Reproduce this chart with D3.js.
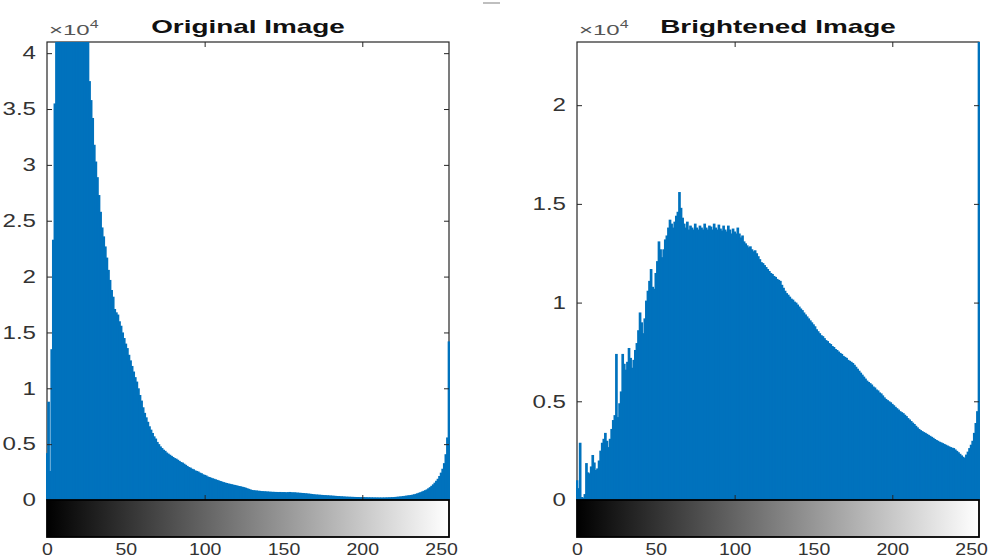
<!DOCTYPE html>
<html><head><meta charset="utf-8">
<script src="https://cdn.jsdelivr.net/npm/d3@7"></script>
<style>body{margin:0;background:#fff}svg{display:block}</style>
</head><body><svg id="c" width="988" height="559"></svg>
<script>
// ---------- data ----------
const grayLevels = Array.from({length: 256}, (_, i) => i);

const originalCounts = [
 4200, 8800, 2600, 13500, 23300, 35500,
 44000, 51000, 56000, 60000, 62000, 63500, 64000, 63000, 62000, 60500, 59000, 57000, 55000, 53000, 51000, 49500, 47500, 46000, 44500, 43000, 41800,
 37500, 35800, 34200, 31800, 30300, 28900, 27300, 25800, 24400, 23600, 22700, 21700, 20600, 19700,
 18800, 18200, 17100, 16800, 16600, 16000, 15600, 15000, 14500, 14000, 13600, 13000, 12500, 12000, 11500, 11000, 10600, 10000, 9400, 8900,
 8300, 7800, 7400, 7000, 6600, 6300, 6000, 5700, 5500, 5200, 5000, 4800, 4650, 4500, 4400, 4250, 4150, 4050, 3950, 3850,
 3750, 3700, 3600, 3500, 3400, 3350, 3250, 3150, 3050, 2950, 2900, 2800, 2750, 2650, 2600, 2550, 2450, 2400, 2300, 2250,
 2200, 2100, 2060, 2000, 1950, 1900, 1850, 1800, 1750, 1700, 1650, 1600, 1560, 1520, 1480, 1450, 1420, 1380, 1350, 1320,
 1280, 1250, 1220, 1180, 1150, 1100, 1050, 1000, 950, 900, 880, 860, 850, 830, 820, 800, 790, 780, 770, 760,
 750, 740, 730, 730, 720, 720, 710, 720, 700,
 710, 700, 690, 700, 720, 700, 680, 690, 670, 660, 650, 640, 630, 620, 600, 590, 570, 560, 540, 520, 500, 490,
 480, 470, 460, 450, 440, 430, 420, 410, 400, 390, 380, 370, 360, 350, 340, 330, 320, 310, 300, 295, 290, 285, 280, 275, 270, 265, 260, 258,
 258, 255, 250, 245, 240, 238, 235, 232, 230, 228, 225, 225, 222, 224, 226, 230, 235, 240, 248, 256, 265, 275, 288, 300, 315, 330, 350, 370, 390, 410, 430, 450, 480, 510, 550,
 600, 650, 700, 760, 820, 880, 950, 1050, 1150, 1270, 1400, 1550, 1720, 1900, 2150, 2450, 2800, 3300, 4100, 5600, 14200
];

const brightenedCounts = [
 1000, 600, 2900, 150, 120, 300, 1870, 1400, 1350, 1700,
 2280, 1900, 1520, 1600, 2000, 2500, 2900, 3100, 3400, 3000,
 2680, 3100, 3600, 4050, 4300, 7400, 4200, 4900, 5500, 7400,
 6900, 6600, 7000, 7700, 7200, 6700, 7100, 7600, 7950, 8600,
 9500, 9000, 8450, 9200, 10100, 10600, 11100, 11700, 10800, 10700,
 11500, 12100, 13100, 12700, 12300, 12700, 13200, 13400, 13800, 14200,
 14000, 13800, 14100, 14400, 14600, 15600, 14800, 14300, 14000, 13800,
 14100, 13700, 13900, 13800, 13700, 14000, 13800, 13700, 13900, 13800,
 13700, 14000, 13800, 13700, 13900, 13850, 13700, 14000, 13800, 13700,
 13950, 13750, 13650, 13900, 13700, 13600, 13900, 13700, 13500, 13750,
 13600, 13500, 13800, 13500, 13300, 13400, 13100, 13000, 12900, 12800,
 12850, 12700, 12600, 12650, 12500, 12350, 12200, 12050, 12000, 11900,
 11800, 11700, 11600, 11500, 11450, 11350, 11300, 11200, 11150, 11100,
 10900, 10750, 10600, 10480, 10400, 10300, 10200, 10150, 10050, 10000,
 9900, 9800, 9700, 9620, 9500, 9400, 9300, 9200, 9100, 9000,
 8900, 8800, 8650, 8550, 8450, 8350, 8300, 8200, 8100, 8050,
 7950, 7900, 7800, 7750, 7650, 7600, 7520, 7450, 7400, 7300,
 7250, 7200, 7100, 7050, 7000, 6940, 6850, 6750, 6650, 6550,
 6450, 6350, 6250, 6150, 6050, 5980, 5920, 5850, 5750, 5700,
 5600, 5550, 5450, 5400, 5300, 5200, 5120, 5060, 5000, 4950,
 4870, 4800, 4720, 4650, 4580, 4500, 4450, 4400, 4320, 4250,
 4150, 4080, 4000, 3920, 3850, 3760, 3680, 3600, 3540, 3490,
 3440, 3400, 3350, 3300, 3250, 3200, 3150, 3090, 3040, 3000,
 2950, 2920, 2880, 2840, 2800, 2760, 2720, 2680, 2650, 2630,
 2560, 2490, 2420, 2340, 2260, 2190, 2130, 2300, 2450, 2630,
 2800, 3000, 3400, 3900, 4500, 60000
];

const titles = ["Original Image", "Brightened Image"];
const yTicksOriginal = [0, 5000, 10000, 15000, 20000, 25000, 30000, 35000, 40000];
const yTicksBrightened = [0, 5000, 10000, 15000, 20000];
const yMaxOriginal = 41000;
const yMaxBrightened = 23200;
const xTickLabels = [0, 50, 100, 150, 200, 250];
const axisXTicks = [100, 200];

// ---------- drawing ----------
const svg = d3.select("#c");
const BLUE = "#0072BD", AX = "#262626", FONT = "'Liberation Sans', Arial, Helvetica, sans-serif";
const TOP = 42, BOT = 500, CB = 537;

const defs = svg.append("defs");
const grad = defs.append("linearGradient").attr("id", "grayramp").attr("x1", "0%").attr("x2", "100%");
grad.append("stop").attr("offset", "0%").attr("stop-color", "#000");
grad.append("stop").attr("offset", "100%").attr("stop-color", "#fff");

function stretch(sel, sx) {
  sel.each(function () {
    const t = d3.select(this);
    const x = +t.attr("x") || 0, y = +t.attr("y") || 0;
    t.attr("transform", `translate(${x},${y}) scale(${sx},1) translate(${-x},${-y})`);
  });
}

const panels = [
  {x0: 47, x1: 449, counts: originalCounts, yMax: yMaxOriginal, yTicks: yTicksOriginal, title: titles[0]},
  {x0: 577, x1: 979, counts: brightenedCounts, yMax: yMaxBrightened, yTicks: yTicksBrightened, title: titles[1]}
];

panels.forEach((p, k) => {
  const x = d3.scaleLinear().domain([0, 255]).range([p.x0, p.x1]);
  const y = d3.scaleLinear().domain([0, p.yMax]).range([BOT, TOP]);
  const g = svg.append("g");

  // axes box
  g.append("rect").attr("x", p.x0).attr("y", TOP).attr("width", p.x1 - p.x0).attr("height", BOT - TOP)
    .attr("fill", "none").attr("stroke", AX).attr("stroke-width", 1.2);

  // histogram stems
  defs.append("clipPath").attr("id", "clip" + k).append("rect")
    .attr("x", p.x0 - 1).attr("y", TOP).attr("width", p.x1 - p.x0 + 2).attr("height", BOT - TOP);
  const step = x(1) - x(0);
  g.append("g").attr("clip-path", `url(#clip${k})`)
    .selectAll("rect").data(p.counts).join("rect")
    .attr("x", (d, i) => x(grayLevels[i]) - step / 2 - 0.55)
    .attr("width", step + 1.1)
    .attr("y", d => y(d))
    .attr("height", d => BOT - y(d))
    .attr("fill", BLUE);

  // y axis left (labels)
  const ya = g.append("g").attr("transform", `translate(${p.x0},0)`)
    .call(d3.axisLeft(y).tickValues(p.yTicks).tickSizeInner(-5).tickSizeOuter(0).tickPadding(11)
      .tickFormat(v => d3.format("~g")(v / 1e4)));
  ya.select(".domain").remove();
  ya.selectAll("line").attr("stroke", AX);
  ya.selectAll("text").attr("font-size", 18).attr("font-family", FONT).attr("fill", "#333");
  stretch(ya.selectAll("text"), 1.34);

  // y axis right (ticks only)
  const yr = g.append("g").attr("transform", `translate(${p.x1},0)`)
    .call(d3.axisRight(y).tickValues(p.yTicks).tickSizeInner(-5).tickSizeOuter(0).tickFormat(""));
  yr.select(".domain").remove();
  yr.selectAll("line").attr("stroke", AX);

  // x ticks top & bottom of histogram axes
  const xt = g.append("g").attr("transform", `translate(0,${TOP})`)
    .call(d3.axisTop(x).tickValues(axisXTicks).tickSizeInner(-5).tickSizeOuter(0).tickFormat(""));
  xt.select(".domain").remove();
  xt.selectAll("line").attr("stroke", AX);
  const xb = g.append("g").attr("transform", `translate(0,${BOT})`)
    .call(d3.axisBottom(x).tickValues(axisXTicks).tickSizeInner(-5).tickSizeOuter(0).tickFormat(""));
  xb.select(".domain").remove();
  xb.selectAll("line").attr("stroke", AX);

  // gray colorbar
  g.append("rect").attr("x", p.x0).attr("y", BOT).attr("width", p.x1 - p.x0).attr("height", CB - BOT)
    .attr("fill", "url(#grayramp)").attr("stroke", "#000").attr("stroke-width", 1.8);

  // x labels under colorbar
  const xl = g.append("g").attr("transform", `translate(0,${CB})`)
    .call(d3.axisBottom(x).tickValues(xTickLabels).tickSize(0).tickPadding(7));
  xl.select(".domain").remove();
  xl.selectAll("text").attr("font-size", 16).attr("font-family", FONT).attr("fill", "#333");
  stretch(xl.selectAll("text"), 1.22);

  // title
  const t = g.append("text").attr("x", (p.x0 + p.x1) / 2).attr("y", 33)
    .attr("text-anchor", "middle").attr("font-family", FONT).attr("font-weight", "bold")
    .attr("font-size", 18).attr("fill", "#111").text(p.title);
  stretch(t, 1.55);

  // exponent label
  const ex = g.append("text").attr("x", p.x0 + 2).attr("y", 35)
    .attr("font-family", FONT).attr("font-size", 15).attr("fill", "#555");
  ex.append("tspan").text("\u00d710");
  ex.append("tspan").attr("font-size", 10).attr("dy", -7).text("4");
  stretch(ex, 1.6);
});

// small stray mark at top of figure
svg.append("line").attr("x1", 483).attr("x2", 500).attr("y1", 3).attr("y2", 3)
  .attr("stroke", "#aaa").attr("stroke-width", 1.5);
</script>
</body></html>
